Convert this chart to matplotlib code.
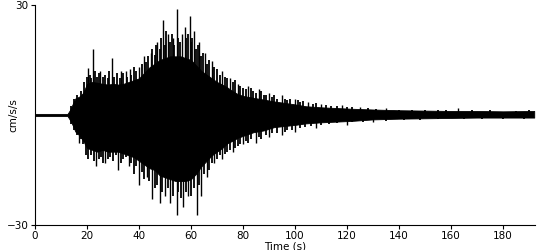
import numpy as np
import matplotlib.pyplot as plt

# envelope of the record (time in s, cm/s/s)
env_t = [0, 12.5, 13.5, 14.5, 15.5, 17, 18.5, 20, 22, 24, 26, 28, 30, 32, 34, 36,
         38, 40, 42, 44, 46, 48, 50, 52, 54, 56, 58, 60, 62, 64, 66, 68, 70, 72,
         74, 76, 78, 80, 84, 88, 92, 96, 100, 104, 110, 116, 122, 130, 140, 150,
         160, 170, 180, 192]
env_up = [0.3, 0.3, 1.4, 3.0, 4.5, 5.0, 6.0, 8.5, 9.0, 8.8, 8.5, 8.3, 8.5, 8.3,
          8.5, 9.0, 9.5, 10, 11.5, 13, 14, 15, 15.5, 16, 16, 16, 15.5, 15, 13.5,
          12, 11, 10, 9, 8.3, 7.5, 6.5, 5.7, 5.2, 4.7, 4.2, 3.7, 3.3, 2.9, 2.4,
          2.1, 1.9, 1.7, 1.5, 1.3, 1.2, 1.1, 1.1, 1.0, 1.1]
env_lo = [-0.3, -0.3, -1.4, -2.8, -4.5, -5.5, -7.0, -9.0, -9.5, -10, -9.5, -10,
          -10, -10, -10.5, -11, -11.5, -12.5, -13.5, -14.5, -15, -16.5, -17,
          -17.5, -18, -18, -18, -17.5, -16, -14, -12.5, -11, -10, -9,
          -7.7, -7, -6.2, -5.7, -4.7, -4.2, -3.3, -3.0, -2.7, -2.3, -2.0, -1.8,
          -1.6, -1.2, -1.0, -0.9, -0.8, -0.7, -0.7, -0.7]

# the biggest peaks
peak_up_t = [20.4, 22.3, 25, 29.6, 33, 35, 36.5, 40, 42, 44.5, 47, 49.3, 51, 53,
             54.5, 56.5, 57.5, 59.6, 61, 63, 65.5, 68, 72, 75, 78, 82, 86, 90, 95,
             100, 105, 110, 118, 125, 135, 162.7]
peak_up = [12.8, 18, 12, 15.5, 12, 12, 12.5, 13, 16, 17, 20, 26, 22, 21, 29, 22,
           24, 27, 23, 20, 17, 14.7, 12, 10, 8.5, 8, 7, 6, 5.5, 4.5, 3.5, 3, 2.7,
           2.3, 1.8, 1.8]
peak_lo_t = [17, 23.5, 27, 32, 36, 40, 43, 45, 48, 50, 52, 54.5, 57, 59, 62.3, 64,
             66, 69, 72, 76, 80, 85, 90, 95, 100, 108, 120, 130]
peak_lo = [-7.5, -14, -13, -15, -14, -19, -17, -23, -24, -22, -24, -27.3, -25, -22,
           -27.3, -22, -17, -13, -12, -10, -8, -7.7, -6, -5.5, -4.5, -3.5, -2.7, -2]

# smaller peaks that make the ragged edge
minor_up_t = [14, 15, 16, 17.5, 18, 19, 20, 21, 21.6, 23, 24, 24.7, 26, 27, 28,
              28.5, 30.5, 31.5, 32.5, 34, 35.5, 37, 38, 39, 41, 42.6, 43.5, 45,
              46, 46.6, 48, 48.6, 50, 50.5, 52, 52.5, 53.5, 55, 55.7, 58, 58.7, 60,
              60.5, 62, 62.5, 64, 64.5, 66, 67, 69, 70, 71, 73, 74, 76, 77, 79, 80,
              81, 83, 84, 85, 87, 88, 89, 91, 92, 93, 96, 97, 98, 101, 102, 103,
              107, 108, 112, 114, 116, 120, 122, 128, 131, 140, 145, 150, 155, 158,
              168, 175, 185, 190]
minor_up = [2.5, 4.5, 5.5, 6.5, 5, 9, 10.5, 11, 10, 12, 10.5, 11.5, 10.5, 11, 10,
            12, 10.5, 11.5, 10, 11.5, 10.5, 11, 13, 12, 14, 14.5, 16, 18, 16.5, 19,
            18, 21, 19, 23, 20, 22, 19, 21, 20, 21, 22, 20, 21, 18, 19, 16, 17, 14,
            15, 13, 12.5, 11, 10.5, 10, 9, 9.5, 8, 7.5, 7, 7.5, 6.5, 6, 6.5, 5.5,
            5.5, 5, 5.5, 4.5, 4.5, 4, 4.5, 4, 3.5, 3.8, 3, 3.2, 2.6, 2.5, 2.4, 2.2,
            2.3, 1.8, 1.7, 1.5, 1.5, 1.4, 1.4, 1.5, 1.3, 1.3, 1.2, 1.4]
minor_lo_t = [14, 15, 16, 17.5, 18.5, 19.5, 20.5, 21.5, 22.5, 24.5, 25.5, 26, 28,
              29, 30, 31, 33, 34, 35, 37, 38, 39, 41, 42, 44, 46, 47, 49, 51, 53,
              55, 56, 58, 60, 61, 63, 65, 67, 68, 70, 71, 73, 74, 75, 77, 78, 79,
              81, 82, 83, 86, 87, 89, 91, 93, 96, 97, 99, 102, 104, 106, 110, 113,
              116, 122, 126, 135, 142, 148, 155, 165, 172, 180, 188]
minor_lo = [-2.5, -4, -5.5, -6.5, -8, -11, -12, -11, -12.5, -12, -11.5, -13, -12,
            -11.5, -12.5, -11, -13, -12, -11.5, -13, -16, -14, -15.5, -17.5, -18,
            -20, -19, -21, -20, -22, -21, -22.5, -21, -22, -20, -19, -16, -15, -13,
            -12, -11, -10.5, -10, -9.5, -9, -8.5, -8, -7, -7.5, -6.5, -6, -6.5,
            -5.5, -5, -5, -4.5, -4, -4, -3.5, -3.2, -3, -2.6, -2.4, -2.2, -2,
            -1.8, -1.5, -1.4, -1.3, -1.2, -1.1, -1.1, -1.0, -1.0]

fig = plt.figure(figsize=(5.5, 2.5), dpi=100)
ax = fig.add_axes([35 / 550, 25 / 250, 500 / 550, 220 / 250])

ax.fill_between(env_t, env_lo, env_up, color='black', linewidth=0.6)
ax.vlines(minor_up_t, 0, minor_up, color='black', linewidth=1.3)
ax.vlines(minor_lo_t, minor_lo, 0, color='black', linewidth=1.3)
ax.vlines(peak_up_t, 0, peak_up, color='black', linewidth=1.0)
ax.vlines(peak_lo_t, peak_lo, 0, color='black', linewidth=1.0)

ax.set_xlim(0, 192.3)
ax.set_ylim(-30, 30)
ax.set_xticks(np.arange(0, 181, 20))
ax.set_yticks([-30, 30])
ax.spines['top'].set_visible(False)
ax.spines['right'].set_visible(False)
for s in ['left', 'bottom']:
    ax.spines[s].set_linewidth(0.8)
ax.tick_params(direction='out', length=3, width=0.8, labelsize=7.5, pad=1.5)
ax.set_xlabel('Time (s)', fontsize=7.5, labelpad=0)
ax.set_ylabel('cm/s/s', fontsize=7.5, labelpad=-8)

fig.savefig('out.png', dpi=100)
